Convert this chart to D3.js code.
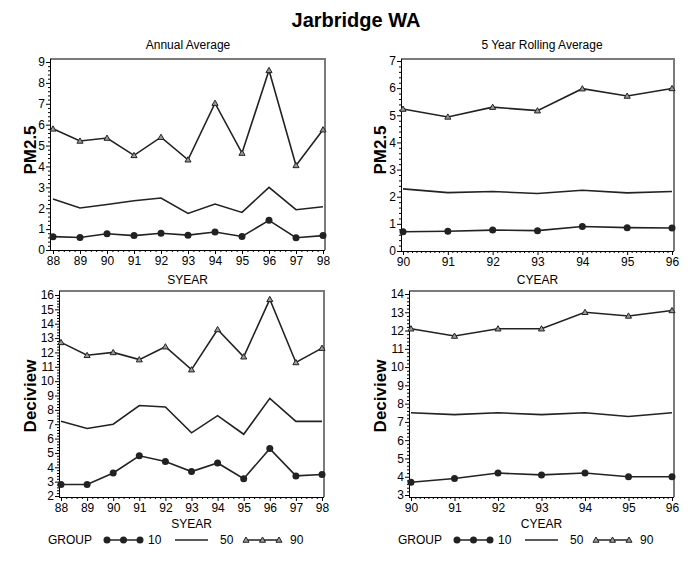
<!DOCTYPE html>
<html>
<head>
<meta charset="utf-8">
<script src="https://cdn.jsdelivr.net/npm/d3@7"></script>
<style>
  body { margin: 0; background: #fff; }
  svg { display: block; font-family: "Liberation Sans", Arial, sans-serif; }
</style>
</head>
<body>
<script>
// years on the two x axes
var sYears = [88, 89, 90, 91, 92, 93, 94, 95, 96, 97, 98];
var cYears = [90, 91, 92, 93, 94, 95, 96];

// annual average PM2.5
var annPm10 = [0.64, 0.6, 0.78, 0.69, 0.8, 0.71, 0.86, 0.65, 1.42, 0.59, 0.69];
var annPm50 = [2.44, 2.01, 2.18, 2.36, 2.49, 1.75, 2.2, 1.8, 3.0, 1.93, 2.07];
var annPm90 = [5.8, 5.22, 5.36, 4.53, 5.4, 4.32, 7.03, 4.64, 8.6, 4.05, 5.76];

// 5 year rolling average PM2.5
var rollPm10 = [0.71, 0.73, 0.77, 0.75, 0.9, 0.86, 0.85];
var rollPm50 = [2.29, 2.15, 2.19, 2.12, 2.24, 2.14, 2.19];
var rollPm90 = [5.23, 4.94, 5.3, 5.17, 5.98, 5.71, 5.99];

// annual average deciview
var annDv10 = [2.8, 2.8, 3.6, 4.8, 4.4, 3.7, 4.3, 3.2, 5.3, 3.4, 3.5];
var annDv50 = [7.2, 6.7, 7.0, 8.3, 8.2, 6.4, 7.6, 6.3, 8.8, 7.2, 7.2];
var annDv90 = [12.7, 11.8, 12.0, 11.5, 12.4, 10.8, 13.6, 11.7, 15.7, 11.3, 12.3];

// 5 year rolling average deciview
var rollDv10 = [3.7, 3.9, 4.2, 4.1, 4.2, 4.0, 4.0];
var rollDv50 = [7.5, 7.4, 7.5, 7.4, 7.5, 7.3, 7.5];
var rollDv90 = [12.1, 11.7, 12.1, 12.1, 13.0, 12.8, 13.1];

var groups = ['10', '50', '90'];

var W = 700, H = 576;
var ink = '#222';

var svg = d3.select('body').append('svg')
    .attr('width', W)
    .attr('height', H);

svg.append('text')
    .attr('x', 356).attr('y', 27)
    .attr('text-anchor', 'middle')
    .style('font-size', '20px')
    .style('font-weight', 'bold')
    .text('Jarbridge WA');

svg.append('text')
    .attr('x', 188).attr('y', 49)
    .attr('text-anchor', 'middle')
    .style('font-size', '12px')
    .text('Annual Average');

svg.append('text')
    .attr('x', 542).attr('y', 49)
    .attr('text-anchor', 'middle')
    .style('font-size', '12px')
    .text('5 Year Rolling Average');

var panels = [
    { years: sYears, series: [annPm10, annPm50, annPm90], yDomain: [0, 9], yTicks: d3.range(0, 10),
      frame: [50, 325, 59, 250], xRange: [53, 323], yRange: [250, 62], xMinor: 5,
      yLabel: 'PM2.5', xLabel: 'SYEAR', labelX: 30, labelY: 150, xLabelY: 284, legend: false },
    { years: cYears, series: [rollPm10, rollPm50, rollPm90], yDomain: [0, 7], yTicks: d3.range(0, 8),
      frame: [401, 674, 59, 251], xRange: [403, 672], yRange: [251, 61], xMinor: 10,
      yLabel: 'PM2.5', xLabel: 'CYEAR', labelX: 380, labelY: 150, xLabelY: 284, legend: false },
    { years: sYears, series: [annDv10, annDv50, annDv90], yDomain: [2, 16], yTicks: d3.range(2, 17),
      frame: [59, 324, 291, 497], xRange: [61, 322], yRange: [496, 295], xMinor: 5,
      yLabel: 'Deciview', xLabel: 'SYEAR', labelX: 30, labelY: 396, xLabelY: 528, legend: true },
    { years: cYears, series: [rollDv10, rollDv50, rollDv90], yDomain: [3, 14], yTicks: d3.range(3, 15),
      frame: [409, 674, 291, 497], xRange: [411, 672], yRange: [495, 294], xMinor: 10,
      yLabel: 'Deciview', xLabel: 'CYEAR', labelX: 380, labelY: 396, xLabelY: 528, legend: true }
];

panels.forEach(drawPanel);

function drawPanel(p) {
    var g = svg.append('g');
    var f = p.frame;
    var x = d3.scaleLinear().domain(d3.extent(p.years)).range(p.xRange);
    var y = d3.scaleLinear().domain(p.yDomain).range(p.yRange);

    // top and right edges of the frame are grey
    g.append('path')
        .attr('d', 'M' + f[0] + ',' + f[2] + 'H' + f[1] + 'V' + f[3])
        .attr('fill', 'none')
        .attr('stroke', '#7a7a7a')
        .attr('stroke-width', 2);

    // minor ticks
    var xMinor = [];
    for (var i = 0; i < p.years.length - 1; i++) {
        for (var k = 1; k < p.xMinor; k++) {
            xMinor.push(p.years[i] + k / p.xMinor);
        }
    }
    var yMinor = [];
    p.yTicks.slice(0, -1).forEach(function (t) {
        for (var k = 1; k < 5; k++) yMinor.push(t + k / 5);
    });

    g.append('g')
        .attr('transform', 'translate(0,' + f[3] + ')')
        .call(d3.axisBottom(x).tickValues(xMinor).tickSize(2).tickFormat(''))
        .call(clean);
    g.append('g')
        .attr('transform', 'translate(' + f[0] + ',0)')
        .call(d3.axisLeft(y).tickValues(yMinor).tickSize(2).tickFormat(''))
        .call(clean);

    // major ticks and labels
    var xAxis = g.append('g')
        .attr('transform', 'translate(0,' + f[3] + ')')
        .call(d3.axisBottom(x).tickValues(p.years).tickSize(4).tickPadding(2).tickFormat(d3.format('d')))
        .call(clean);
    xAxis.select('.domain').remove();
    g.append('line')
        .attr('x1', f[0]).attr('x2', f[1])
        .attr('y1', f[3] + 0.5).attr('y2', f[3] + 0.5)
        .attr('stroke', '#000');

    var yAxis = g.append('g')
        .attr('transform', 'translate(' + f[0] + ',0)')
        .call(d3.axisLeft(y).tickValues(p.yTicks).tickSize(4).tickPadding(1).tickFormat(d3.format('d')))
        .call(clean);
    yAxis.select('.domain').remove();
    g.append('line')
        .attr('x1', f[0] + 0.5).attr('x2', f[0] + 0.5)
        .attr('y1', f[2]).attr('y2', f[3])
        .attr('stroke', '#000');

    g.append('text')
        .attr('transform', 'translate(' + (p.labelX + 6) + ',' + p.labelY + ') rotate(-90)')
        .attr('text-anchor', 'middle')
        .style('font-size', '17px')
        .style('font-weight', 'bold')
        .text(p.yLabel);

    g.append('text')
        .attr('x', (f[0] + f[1]) / 2)
        .attr('y', p.xLabelY)
        .attr('text-anchor', 'middle')
        .style('font-size', '12px')
        .text(p.xLabel);

    // series
    var line = d3.line()
        .x(function (d, i) { return x(p.years[i]); })
        .y(function (d) { return y(d); });

    p.series.forEach(function (values, s) {
        g.append('path')
            .datum(values)
            .attr('d', line)
            .attr('fill', 'none')
            .attr('stroke', ink)
            .attr('stroke-width', 1.6);
        drawMarkers(g, s, values.map(function (v, i) { return [x(p.years[i]), y(v)]; }));
    });

    if (p.legend) drawLegend(f[0] > 300 ? 350 : 0, 540);
}

function drawMarkers(g, s, pts) {
    if (s === 0) {
        g.selectAll(null).data(pts).enter().append('circle')
            .attr('cx', function (d) { return d[0]; })
            .attr('cy', function (d) { return d[1]; })
            .attr('r', 3.5)
            .attr('fill', ink);
    } else if (s === 2) {
        g.selectAll(null).data(pts).enter().append('path')
            .attr('transform', function (d) { return 'translate(' + d[0] + ',' + (d[1] + 0.5) + ')'; })
            .attr('d', d3.symbol(d3.symbolTriangle, 16))
            .attr('fill', '#999')
            .attr('stroke', ink)
            .attr('stroke-width', 1);
    }
}

function drawLegend(ox, cy) {
    var lg = svg.append('g').attr('transform', 'translate(' + ox + ',0)');
    lg.append('text')
        .attr('x', 48).attr('y', cy + 4)
        .style('font-size', '12px')
        .text('GROUP');

    var slots = [107, 175, 246];
    var textX = [148, 220, 290];
    groups.forEach(function (name, s) {
        var x0 = slots[s], x1 = x0 + 33;
        lg.append('line')
            .attr('x1', x0).attr('x2', x1)
            .attr('y1', cy).attr('y2', cy)
            .attr('stroke', ink)
            .attr('stroke-width', 1.4);
        if (s !== 1) {
            drawMarkers(lg, s, [[x0, cy], [(x0 + x1) / 2, cy], [x1, cy]]);
        }
        lg.append('text')
            .attr('x', textX[s]).attr('y', cy + 4)
            .style('font-size', '12px')
            .text(name);
    });
}

function clean(sel) {
    sel.selectAll('.domain').attr('stroke', '#000');
    sel.selectAll('.tick line').attr('stroke', '#000');
    sel.selectAll('.tick text')
        .attr('fill', '#000')
        .style('font-size', '12px')
        .style('font-family', '"Liberation Sans", Arial, sans-serif');
}
</script>
</body>
</html>
